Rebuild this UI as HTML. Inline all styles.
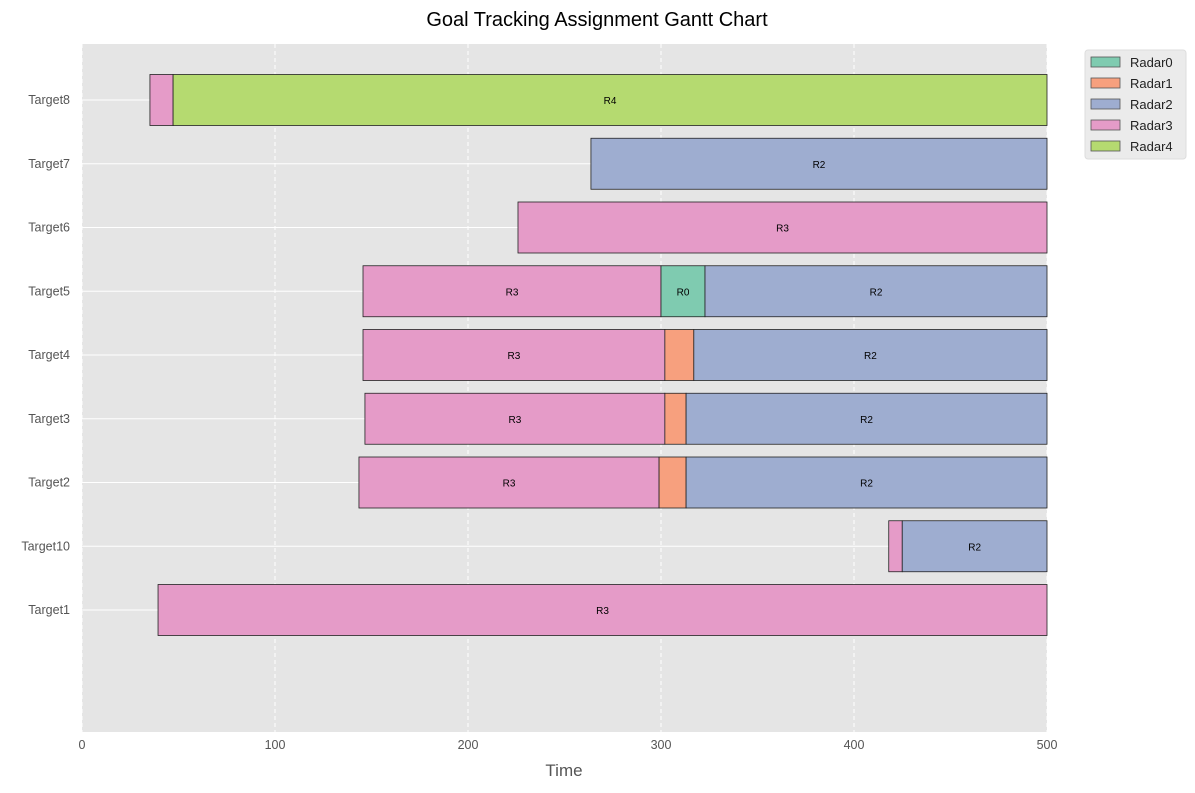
<!DOCTYPE html>
<html><head><meta charset="utf-8"><style>
body{margin:0;background:#fff;font-family:"Liberation Sans","DejaVu Sans",sans-serif;}
</style></head><body>
<svg id="chart" width="1195" height="788" xmlns="http://www.w3.org/2000/svg">
<text x="597" y="26" text-anchor="middle" font-size="20" fill="#000">Goal Tracking Assignment Gantt Chart</text>
<rect x="82" y="44" width="965" height="688" fill="#e5e5e5"/>
<g id="grid"></g><g id="bars"></g><g id="axes"></g>
<text x="564" y="776" text-anchor="middle" font-size="17" fill="#555">Time</text>
<g id="legend"></g>
</svg>
<script>
const targets=["Target1","Target10","Target2","Target3","Target4","Target5","Target6","Target7","Target8"];
const segStart=[[39.4],[418,425],[143.5,299,313],[146.6,302,313],[145.6,302,317],[145.6,300,322.8],[225.9],[263.7],[35.2,47.2]];
const segEnd=[[500],[425,500],[299,313,500],[302,313,500],[302,317,500],[300,322.8,500],[500],[500],[47.2,500]];
const segRadar=[[3],[3,2],[3,1,2],[3,1,2],[3,1,2],[3,0,2],[3],[2],[3,4]];
const radars=["Radar0","Radar1","Radar2","Radar3","Radar4"];
const xTicks=[0,100,200,300,400,500];
const colors=["#7fcbb0","#f7a07e","#9eadd0","#e59bc8","#b5da70"];
const NS="http://www.w3.org/2000/svg";
const X=v=>82+v*965/500;
const Y=i=>610-i*63.75;
function mk(t,a,p){const e=document.createElementNS(NS,t);for(const k in a)e.setAttribute(k,a[k]);p.appendChild(e);return e;}
const grid=document.getElementById('grid'),bars=document.getElementById('bars'),axes=document.getElementById('axes'),lg=document.getElementById('legend');
xTicks.forEach(t=>{
 const l=mk('line',{x1:X(t),x2:X(t),y1:44,y2:732,stroke:'#fff','stroke-dasharray':'4,3','stroke-width':1},grid);
 
 const tk=mk('text',{x:X(t),y:749,'text-anchor':'middle','font-size':12.5,fill:'#555'},axes);tk.textContent=t;
 
});
targets.forEach((n,i)=>{
 const l=mk('line',{x1:82,x2:1047,y1:Y(i),y2:Y(i),stroke:'#fff','stroke-width':1},grid);
 
 const tk=mk('text',{x:70,y:Y(i)+4,'text-anchor':'end','font-size':12.5,fill:'#555'},axes);tk.textContent=n;
 
 segStart[i].forEach((s,j)=>{
  const e=segEnd[i][j],r=segRadar[i][j];
  const b=mk('rect',{x:X(s),y:Y(i)-25.5,width:X(e)-X(s),height:51,fill:colors[r],stroke:'#222','stroke-width':0.8},bars);
  
  if(X(e)-X(s)>35){
   const t=mk('text',{x:(X(s)+X(e))/2,y:Y(i)+4,'text-anchor':'middle','font-size':10,fill:'#000'},bars);t.textContent='R'+r;
   
  }
 });
});
const lb=mk('rect',{x:1085,y:50,width:101,height:109,rx:3,fill:'#ebebeb',stroke:'#ddd'},lg);

radars.forEach((r,k)=>{
 const y=62+k*21;
 const s=mk('rect',{x:1091,y:y-5,width:29,height:10,fill:colors[k],stroke:'#555','stroke-width':0.8},lg);
 
 const t=mk('text',{x:1130,y:y+5,'font-size':13,fill:'#222'},lg);t.textContent=r;
 
});
</script>
</body></html>
